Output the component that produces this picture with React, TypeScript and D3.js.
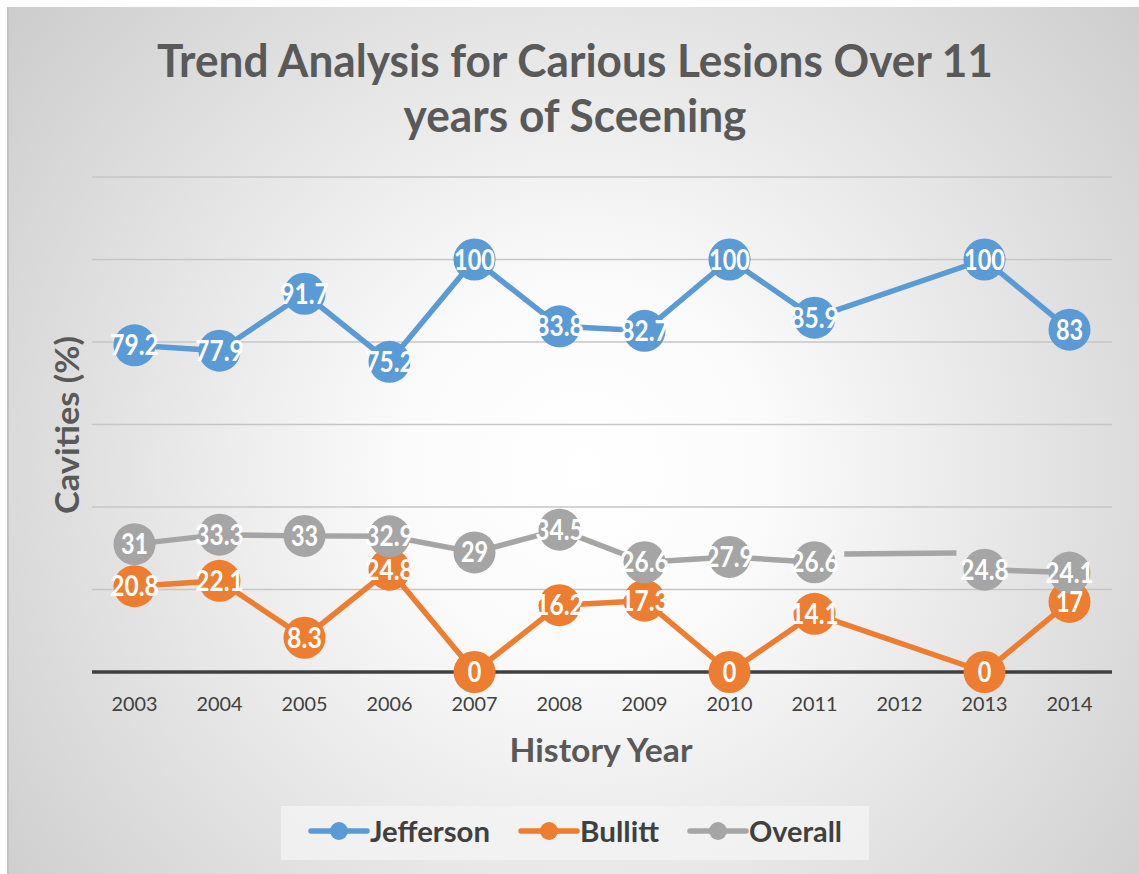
import React, { useEffect, useRef } from "react";
import * as d3 from "d3";

const years = ["2003", "2004", "2005", "2006", "2007", "2008", "2009", "2010", "2011", "2012", "2013", "2014"];
const jefferson: (number | null)[] = [79.2, 77.9, 91.7, 75.2, 100, 83.8, 82.7, 100, 85.9, null, 100, 83];
const bullitt: (number | null)[] = [20.8, 22.1, 8.3, 24.8, 0, 16.2, 17.3, 0, 14.1, null, 0, 17];
const overall: (number | null)[] = [31, 33.3, 33, 32.9, 29, 34.5, 26.6, 27.9, 26.6, null, 24.8, 24.1];
const yTicks = [0, 20, 40, 60, 80, 100, 120];
// stray partial Overall segment between 2011 and 2013 (fractional category index, value)
const overallStray: [number, number][] = [[8.35, 28.6], [9.67, 28.85]];

const seriesNames = ["Jefferson", "Bullitt", "Overall"];
const seriesColors = ["#5B9BD5", "#ED7D31", "#A5A5A5"];
const titleLines = ["Trend Analysis for Carious Lesions Over 11", "years of Sceening"];

const W = 1139;
const H = 874;
const FONT = "Lato, 'Open Sans', sans-serif";

export default function App() {
  const ref = useRef<SVGSVGElement>(null);

  useEffect(() => {
    const svg = d3.select(ref.current);
    svg.selectAll("*").remove();

    const defs = svg.append("defs");
    const grad = defs
      .append("radialGradient")
      .attr("id", "bg")
      .attr("gradientUnits", "userSpaceOnUse")
      .attr("cx", 585)
      .attr("cy", 470)
      .attr("r", 730);
    grad.append("stop").attr("offset", "0").attr("stop-color", "#ffffff");
    grad.append("stop").attr("offset", "0.25").attr("stop-color", "#fbfbfb");
    grad.append("stop").attr("offset", "1").attr("stop-color", "#cdcdcd");

    svg
      .append("rect")
      .attr("x", 7)
      .attr("y", 7)
      .attr("width", W - 7)
      .attr("height", H - 7)
      .attr("fill", "url(#bg)");
    svg
      .append("line")
      .attr("x1", 8)
      .attr("x2", 8)
      .attr("y1", 7)
      .attr("y2", H)
      .attr("stroke", "#c4c4c4")
      .attr("stroke-width", 2);

    const left = 92;
    const right = 1112;
    const x = d3.scalePoint<string>().domain(years).range([left, right]).padding(0.5);
    const step = x.step();
    const xi = (i: number) => (x(years[0]) as number) + i * step;
    const y = d3.scaleLinear().domain([0, 120]).range([672, 177]);

    // narrow text to a target width, keeping its font size (Calibri-like proportions)
    const squeeze = (
      sel: d3.Selection<SVGTextElement, unknown, null, undefined>,
      target: number
    ) => {
      sel.attr("textLength", target).attr("lengthAdjust", "spacingAndGlyphs");
    };

    // gridlines
    svg
      .append("g")
      .selectAll("line")
      .data(yTicks.filter((t) => t !== 0))
      .join("line")
      .attr("x1", left)
      .attr("x2", right)
      .attr("y1", (d) => y(d))
      .attr("y2", (d) => y(d))
      .attr("stroke", "#c6c6c6")
      .attr("stroke-width", 1.5);

    // x axis line
    svg
      .append("line")
      .attr("x1", left)
      .attr("x2", right)
      .attr("y1", y(0))
      .attr("y2", y(0))
      .attr("stroke", "#404040")
      .attr("stroke-width", 3.5);

    // tick labels
    svg
      .append("g")
      .selectAll("text")
      .data(years)
      .join("text")
      .attr("x", (d) => x(d) as number)
      .attr("y", 711)
      .attr("text-anchor", "middle")
      .attr("font-family", FONT)
      .attr("font-size", 20)
      .attr("fill", "#404040")
      .attr("textLength", 46)
      .attr("lengthAdjust", "spacingAndGlyphs")
      .text((d) => d);

    const seriesData = [jefferson, bullitt, overall];

    // lines
    const lineGen = d3
      .line<[number, number]>()
      .x((d) => xi(d[0]))
      .y((d) => y(d[1]));

    seriesData.forEach((vals, si) => {
      const pts: [number, number][] = vals
        .map((v, i) => [i, v] as [number, number | null])
        .filter((p) => p[1] !== null) as [number, number][];
      if (si < 2) {
        svg
          .append("path")
          .attr("d", lineGen(pts) as string)
          .attr("fill", "none")
          .attr("stroke", seriesColors[si])
          .attr("stroke-width", 5.5)
          .attr("stroke-linejoin", "round")
          .attr("stroke-linecap", "round");
      } else {
        const segs: [number, number][][] = [];
        let cur: [number, number][] = [];
        vals.forEach((v, i) => {
          if (v === null) {
            if (cur.length) segs.push(cur);
            cur = [];
          } else cur.push([i, v]);
        });
        if (cur.length) segs.push(cur);
        segs.push(overallStray);
        segs.forEach((s) => {
          svg
            .append("path")
            .attr("d", lineGen(s) as string)
            .attr("fill", "none")
            .attr("stroke", seriesColors[si])
            .attr("stroke-width", 5.5)
            .attr("stroke-linejoin", "round");
        });
      }
    });

    // markers
    seriesData.forEach((vals, si) => {
      svg
        .append("g")
        .selectAll("circle")
        .data(vals.map((v, i) => ({ v, i })).filter((d) => d.v !== null))
        .join("circle")
        .attr("cx", (d) => xi(d.i))
        .attr("cy", (d) => y(d.v as number))
        .attr("r", 21)
        .attr("fill", seriesColors[si]);
    });

    // labels
    seriesData.forEach((vals) => {
      svg
        .append("g")
        .selectAll("text")
        .data(vals.map((v, i) => ({ v, i })).filter((d) => d.v !== null))
        .join("text")
        .attr("x", (d) => xi(d.i))
        .attr("y", (d) => y(d.v as number) + 10)
        .attr("text-anchor", "middle")
        .attr("font-family", FONT)
        .attr("font-weight", "bold")
        .attr("font-size", 28)
        .attr("fill", "#ffffff")
        .each(function (d) {
          const s = String(d.v);
          // Calibri-like narrow digits
          const w = s.length * 13.6 - (s.includes(".") ? 6 : 0);
          d3.select(this).attr("textLength", w).attr("lengthAdjust", "spacingAndGlyphs");
        })
        .text((d) => String(d.v));
    });

    // title
    const t1 = svg
      .append("text")
      .attr("x", 575)
      .attr("y", 77)
      .attr("text-anchor", "middle")
      .attr("font-family", FONT)
      .attr("font-weight", "bold")
      .attr("font-size", 45)
      .attr("fill", "#595959")
      .text(titleLines[0]);
    squeeze(t1 as any, 836);
    const t2 = svg
      .append("text")
      .attr("x", 575)
      .attr("y", 132)
      .attr("text-anchor", "middle")
      .attr("font-family", FONT)
      .attr("font-weight", "bold")
      .attr("font-size", 45)
      .attr("fill", "#595959")
      .text(titleLines[1]);
    squeeze(t2 as any, 343);

    // axis titles
    const xt = svg
      .append("text")
      .attr("x", 601)
      .attr("y", 762)
      .attr("text-anchor", "middle")
      .attr("font-family", FONT)
      .attr("font-weight", "bold")
      .attr("font-size", 32)
      .attr("fill", "#595959")
      .text("History Year");
    squeeze(xt as any, 183);

    const yt = svg
      .append("text")
      .attr("transform", "translate(79,425) rotate(-90)")
      .attr("text-anchor", "middle")
      .attr("font-family", FONT)
      .attr("font-weight", "bold")
      .attr("font-size", 32)
      .attr("fill", "#595959")
      .text("Cavities (%)");
    squeeze(yt as any, 178);

    // legend
    svg
      .append("rect")
      .attr("x", 281)
      .attr("y", 806)
      .attr("width", 588)
      .attr("height", 54)
      .attr("fill", "#f4f4f4")
      .attr("opacity", 0.75);

    const legendLineX = [311, 521, 690];
    const legendTextW = [120, 79, 93];
    seriesNames.forEach((name, si) => {
      const lx = legendLineX[si];
      svg
        .append("line")
        .attr("x1", lx)
        .attr("x2", lx + 56)
        .attr("y1", 831)
        .attr("y2", 831)
        .attr("stroke", seriesColors[si])
        .attr("stroke-width", 5.5)
        .attr("stroke-linecap", "round");
      svg
        .append("circle")
        .attr("cx", lx + 28)
        .attr("cy", 831)
        .attr("r", 9)
        .attr("fill", seriesColors[si]);
      const lt = svg
        .append("text")
        .attr("x", lx + 59)
        .attr("y", 842)
        .attr("font-family", FONT)
        .attr("font-weight", "bold")
        .attr("font-size", 29)
        .attr("fill", "#404040")
        .text(name);
      squeeze(lt as any, legendTextW[si]);
    });
  }, []);

  return (
    <svg
      ref={ref}
      width={W}
      height={H}
      style={{ position: "absolute", left: 0, top: 0, display: "block" }}
    />
  );
}
